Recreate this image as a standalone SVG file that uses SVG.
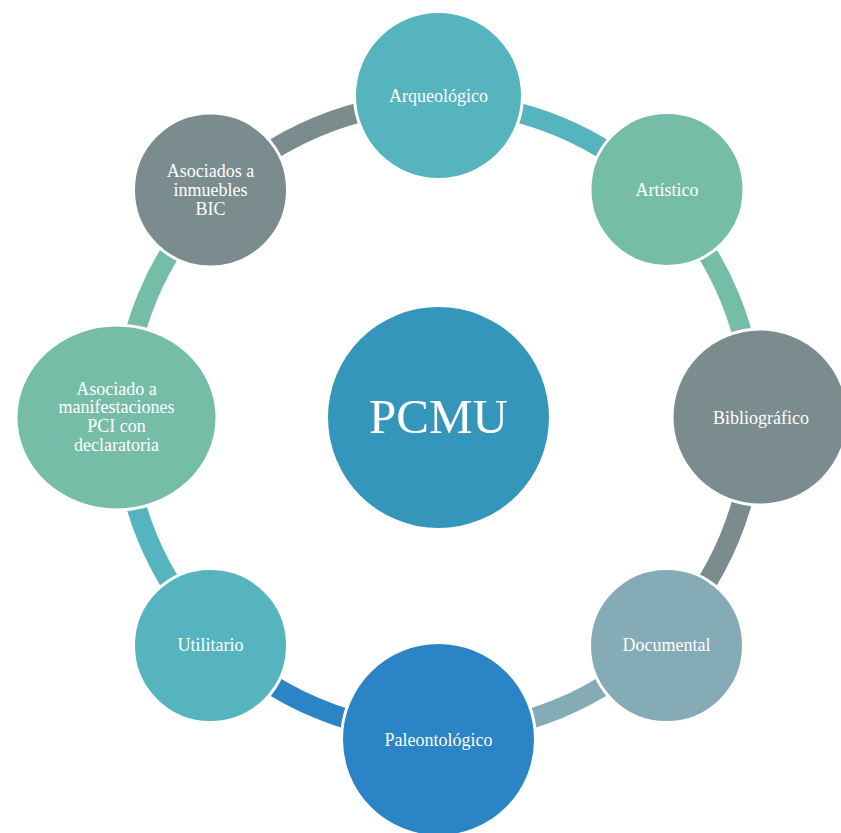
<svg xmlns="http://www.w3.org/2000/svg" width="841" height="833" viewBox="0 0 841 833">
<style>
.arc{fill:none;stroke-width:20}
.node{stroke:#ffffff;stroke-width:3}
.lbl{font-family:"Liberation Serif","Times New Roman",serif;font-size:18px;fill:#ffffff;text-anchor:middle}
.big{font-family:"Liberation Serif","Times New Roman",serif;font-size:49px;fill:#ffffff;text-anchor:middle}
</style>
<rect width="841" height="833" fill="#ffffff"/>
<g id="connectors">
<path class="arc" stroke="#56B4BF" d="M438.5,102.5 A315,315 0 0 1 661.24,194.76"/>
<path class="arc" stroke="#75BDA7" d="M661.24,194.76 A315,315 0 0 1 753.5,417.5"/>
<path class="arc" stroke="#7A8C8E" d="M753.5,417.5 A315,315 0 0 1 661.24,640.24"/>
<path class="arc" stroke="#85ACB6" d="M661.24,640.24 A315,315 0 0 1 438.5,732.5"/>
<path class="arc" stroke="#2A84C6" d="M438.5,732.5 A315,315 0 0 1 215.76,640.24"/>
<path class="arc" stroke="#56B4BF" d="M215.76,640.24 A315,315 0 0 1 123.5,417.5"/>
<path class="arc" stroke="#75BDA7" d="M123.5,417.5 A315,315 0 0 1 215.76,194.76"/>
<path class="arc" stroke="#7A8C8E" d="M215.76,194.76 A315,315 0 0 1 438.5,102.5"/>
</g>
<g id="pcmu">
<circle cx="438.5" cy="417.5" r="110.5" fill="#3596BB"/>
<text class="big" x="438.5" y="433">PCMU</text>
</g>
<g id="arqueologico">
<circle class="node" cx="438.5" cy="95.5" r="84" fill="#56B4BF"/>
<text class="lbl" x="438.5" y="101.5">Arqueológico</text>
</g>
<g id="artistico">
<circle class="node" cx="667" cy="189.5" r="77" fill="#75BDA7"/>
<text class="lbl" x="667" y="196">Artístico</text>
</g>
<g id="bibliografico">
<circle class="node" cx="760" cy="417" r="88" fill="#7A8C8E"/>
<text class="lbl" x="761" y="424">Bibliográfico</text>
</g>
<g id="documental">
<circle class="node" cx="666.5" cy="645.5" r="77" fill="#85ACB6"/>
<text class="lbl" x="666.5" y="651">Documental</text>
</g>
<g id="paleontologico">
<circle class="node" cx="438.5" cy="739.5" r="97" fill="#2A84C6"/>
<text class="lbl" x="438.5" y="745.5">Paleontológico</text>
</g>
<g id="utilitario">
<circle class="node" cx="210.5" cy="645.5" r="77" fill="#56B4BF"/>
<text class="lbl" x="210.5" y="651">Utilitario</text>
</g>
<g id="manifestaciones">
<ellipse class="node" cx="116.5" cy="417.5" rx="100.5" ry="92.5" fill="#75BDA7"/>
<text class="lbl" x="116.5" y="394.5">Asociado a</text>
<text class="lbl" x="116.5" y="413.2">manifestaciones</text>
<text class="lbl" x="116.5" y="431.9">PCI con</text>
<text class="lbl" x="116.5" y="450.6">declaratoria</text>
</g>
<g id="bic">
<circle class="node" cx="210.5" cy="190" r="77" fill="#7A8C8E"/>
<text class="lbl" x="210.5" y="176.5">Asociados a</text>
<text class="lbl" x="210.5" y="195.5">inmuebles</text>
<text class="lbl" x="210.5" y="214.5">BIC</text>
</g>
</svg>
